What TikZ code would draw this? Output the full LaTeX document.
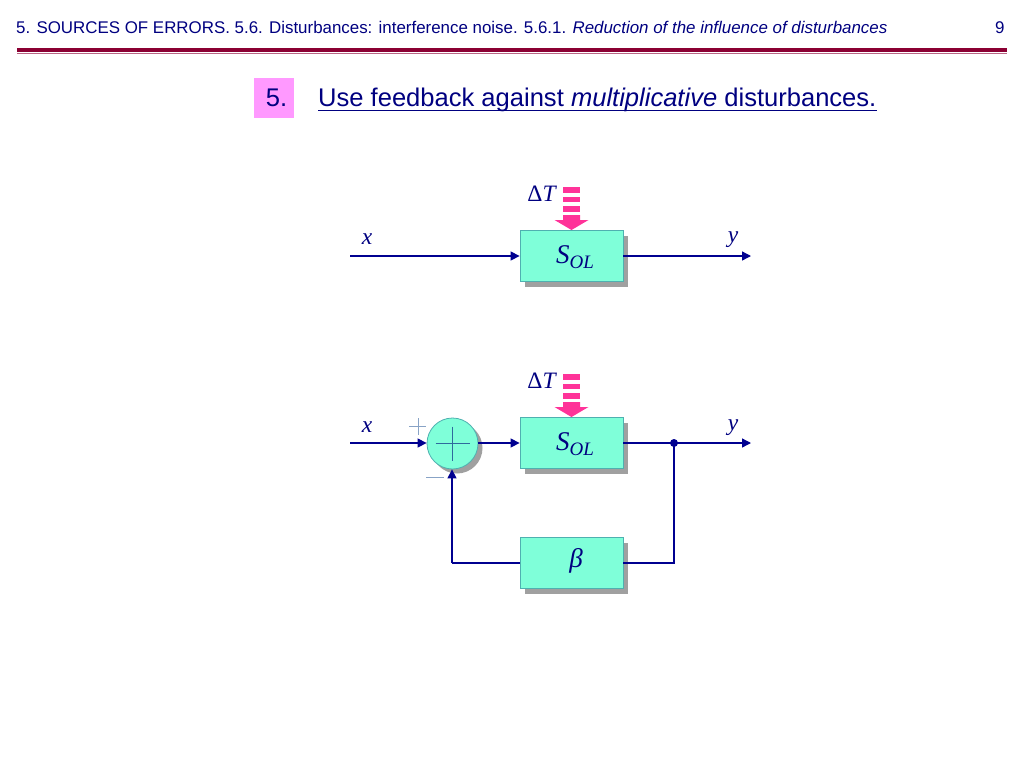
\documentclass[tikz,border=0pt]{standalone}
\usepackage{fontspec}
\setmainfont{Liberation Sans}
\newfontfamily\mathserif{Liberation Serif}
\usetikzlibrary{arrows.meta}
\definecolor{navyink}{HTML}{000080}
\definecolor{wireblue}{HTML}{000090}
\definecolor{aquafill}{HTML}{7FFFD9}
\definecolor{aquaedge}{HTML}{4FB0B0}
\definecolor{shadowgray}{HTML}{A0A0A0}
\definecolor{hotpink}{HTML}{FF3399}
\definecolor{maroonrule}{HTML}{8B0033}
\definecolor{badgepink}{HTML}{FF99FF}
\tikzset{
  blockbox/.style={draw=aquaedge,fill=aquafill,line width=0.8pt,minimum width=103pt,minimum height=51pt,inner sep=0pt},
  blockshadow/.style={fill=shadowgray,draw=none,minimum width=103pt,minimum height=51pt,inner sep=0pt},
  sumnode/.style={circle,draw=aquaedge,fill=aquafill,line width=0.8pt,minimum size=51pt,inner sep=0pt},
  sumshadow/.style={circle,fill=shadowgray,draw=none,minimum size=51pt,inner sep=0pt},
  wire/.style={wireblue,line width=1.3pt},
  wirearrow/.style={wire,-{Triangle[length=9pt,width=9pt]}},
  mathlabel/.style={navyink,font=\fontsize{23.5}{24}\selectfont\mathserif\itshape,inner sep=0pt},
  sollabelstyle/.style={navyink,font=\fontsize{27}{27}\selectfont\mathserif\itshape,inner sep=0pt,anchor=base},
  signmark/.style={aquaedge!60!navyink,line width=0.5pt},
  outermark/.style={aquaedge!50!navyink!55,line width=0.7pt},
  headtext/.style={navyink,font=\fontsize{16.9}{17}\selectfont,inner sep=0pt,anchor=base west},
  titletext/.style={navyink,font=\fontsize{25.55}{26}\selectfont,inner sep=0pt},
}
\newcommand{\pinkarrow}[2]{%
  \fill[hotpink] (#1-8.5,#2) rectangle (#1+8.5,#2+5.5);
  \fill[hotpink] (#1-8.5,#2+9.5) rectangle (#1+8.5,#2+15);
  \fill[hotpink] (#1-8.5,#2+19) rectangle (#1+8.5,#2+24.5);
  \fill[hotpink] (#1-8.5,#2+28) -- (#1+8.5,#2+28) -- (#1+8.5,#2+33) -- (#1+17,#2+33)
    -- (#1,#2+43) -- (#1-17,#2+33) -- (#1-8.5,#2+33) -- cycle;
}
\newcommand{\olname}{S\raisebox{-5pt}{\fontsize{19}{19}\selectfont OL}}
\begin{document}
\begin{tikzpicture}[x=1pt,y=-1pt]
\useasboundingbox (0,0) rectangle (1024,768);
% header
\node[headtext] (headline) at (16,33.5) {5. SOURCES OF ERRORS. 5.6. Disturbances: interference noise. 5.6.1. \textit{Reduction of the influence of disturbances}};
\node[headtext] (pagenum) at (995,33.5) {9};
\fill[maroonrule] (17,48) rectangle (1007,52);
\fill[maroonrule!60] (17,53) rectangle (1007,54.2);
% title
\node[fill=badgepink,minimum size=40pt,inner sep=0pt] (badge) at (274,98) {};
\node[titletext,anchor=base] (badgenum) at (276.5,106) {5.};
\node[titletext,anchor=base west] (title) at (318,106) {Use feedback against \textit{multiplicative} disturbances.};
\draw[navyink,line width=1.4pt] ([yshift=-4.5pt]title.base west) -- ([yshift=-4.5pt]title.base east);
% open loop
\node[blockshadow] (solshadow) at (576.5,261) {};
\node[blockbox] (sol) at (571.5,256) {};
\node[sollabelstyle] (sollabel) at (575,263) {\olname};
\coordinate (xstart) at (350,256);
\coordinate (yend) at (751,256);
\coordinate (darka) at (385,256);
\coordinate (darkb) at (427,256);
\draw[wirearrow] (xstart) -- (sol);
\draw[wire,line width=1.9pt] (darka) -- (darkb);
\draw[wirearrow] (sol) -- (yend);
\node[mathlabel] (xlabel) at (367,239) {x};
\node[mathlabel] (ylabel) at (733,240) {y};
\node[mathlabel,anchor=base] (dtlabel) at (541.5,201) {{\upshape\symbol{"0394}}T};
\pinkarrow{571.5}{187}
% closed loop
\node[sumshadow] (sumshadow) at (457,448) {};
\node[sumnode] (sum) at (452.5,443.5) {};
\node[blockshadow] (solbshadow) at (576.5,448) {};
\node[blockbox] (solb) at (571.5,443) {};
\node[sollabelstyle] (solblabel) at (575,450) {\olname};
\node[blockshadow] (betashadow) at (576.5,568) {};
\node[blockbox] (beta) at (571.5,563) {};
\node[navyink,font=\fontsize{27}{27}\selectfont,inner sep=0pt,anchor=base] (betalabel) at (576,567) {\mathserif\itshape β};
\coordinate (xstartb) at (350,443);
\coordinate (yendb) at (751,443);
\coordinate (branch) at (674,443);
\coordinate (backright) at (674,563);
\coordinate (backleft) at (452,563);
\draw[wirearrow] (xstartb) -- (sum.west |- xstartb);
\draw[wirearrow] (sum.east |- xstartb) -- (solb);
\draw[wirearrow] (solb) -- (yendb);
\draw[wire] (branch) -- (backright) -- (beta);
\draw[wire] (beta) -- (backleft);
\draw[wirearrow] (backleft) -- (backleft |- sum.south);
\fill[wireblue] (branch) circle (4pt);
\draw[signmark] (sum.center) ++(-17,0) -- ++(34,0);
\draw[signmark] (sum.center) ++(0,-17) -- ++(0,34);
\draw[outermark] (418,418) -- (418,435);
\draw[outermark] (409,426.5) -- (426,426.5);
\draw[outermark] (426,477) -- (444,477);
\node[mathlabel] (xlabelb) at (367,427) {x};
\node[mathlabel] (ylabelb) at (733,428) {y};
\node[mathlabel,anchor=base] (dtlabelb) at (541.5,388) {{\upshape\symbol{"0394}}T};
\pinkarrow{571.5}{374}
\end{tikzpicture}
\end{document}
